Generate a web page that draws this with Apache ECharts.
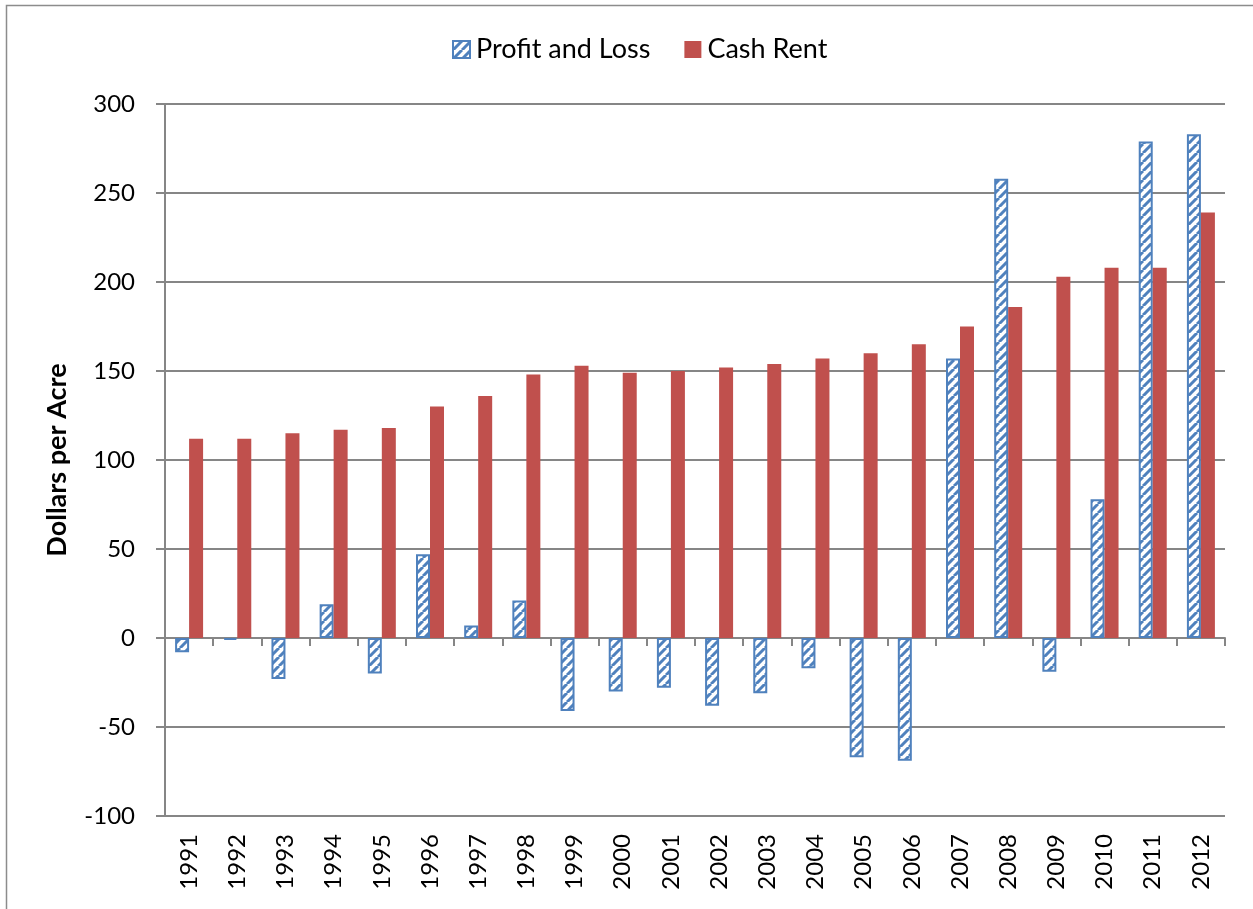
<!DOCTYPE html>
<html>
<head>
<meta charset="utf-8">
<script src="https://cdn.jsdelivr.net/npm/echarts@6/dist/echarts.min.js"></script>
<style>
html,body{margin:0;padding:0;background:#fff;}
#chart{width:1253px;height:909px;}
</style>
</head>
<body>
<div id="chart"></div>
<script>
const years = ['1991','1992','1993','1994','1995','1996','1997','1998','1999','2000','2001','2002','2003','2004','2005','2006','2007','2008','2009','2010','2011','2012'];
const profitLoss = [-8,-1,-23,19,-20,47,7,21,-41,-30,-28,-38,-31,-17,-67,-69,157,258,-19,78,279,283];
const cashRent = [112,112,115,117,118,130,136,148,153,149,150,152,154,157,160,165,175,186,203,208,208,239];
const yTicks = {min:-100, max:300, interval:50};

const BLUE = '#4F81BD', RED = '#C0504D';
const FONT = 'Lato, "Open Sans", sans-serif';

function hatch(){
  const s = 9;
  const c = document.createElement('canvas');
  c.width = s; c.height = s;
  const ctx = c.getContext('2d');
  ctx.fillStyle = '#fff';
  ctx.fillRect(0,0,s,s);
  ctx.strokeStyle = BLUE;
  ctx.lineWidth = 3;
  for (const o of [-s,0,s]) {
    ctx.beginPath();
    ctx.moveTo(o, s);
    ctx.lineTo(o + s, 0);
    ctx.stroke();
  }
  return c;
}

const chart = echarts.init(document.getElementById('chart'));
chart.setOption({
  backgroundColor:'#fff',
  animation:false,
  graphic:[{type:'rect', shape:{x:6.5,y:5.5,width:1400,height:1400}, style:{fill:null, stroke:'#8c8c8c', lineWidth:1.5}, silent:true}],
  legend:{
    top:31, left:447, itemWidth:17, itemHeight:17, itemGap:34, icon:'rect',
    textStyle:{fontFamily:FONT, fontSize:27, color:'#000', padding:[0,0,0,1]},
    data:['Profit and Loss','Cash Rent']
  },
  grid:{left:165, right:28, top:104, bottom:93, containLabel:false},
  xAxis:[{
    type:'category', data:years, position:'bottom',
    axisLine:{onZero:true, lineStyle:{color:'#868686', width:2}},
    axisTick:{show:true, length:8, alignWithLabel:false, lineStyle:{color:'#868686', width:2}},
    axisLabel:{show:false}, splitLine:{show:false}
  },{
    type:'category', data:years, position:'bottom', gridIndex:0,
    axisLine:{show:false, onZero:false}, axisTick:{show:false},
    axisLabel:{show:true, rotate:90, margin:18, fontFamily:FONT, fontSize:24, color:'#000'},
    splitLine:{show:false}
  }],
  yAxis:{
    type:'value', min:yTicks.min, max:yTicks.max, interval:yTicks.interval,
    name:'Dollars per Acre', nameLocation:'middle', nameGap:94, nameRotate:90,
    nameTextStyle:{fontFamily:FONT, fontSize:27, fontWeight:'bold', color:'#000'},
    axisLine:{show:true, onZero:false, lineStyle:{color:'#868686', width:2}},
    axisTick:{show:true, length:9, lineStyle:{color:'#868686', width:2}},
    axisLabel:{margin:30, fontFamily:FONT, fontSize:24, color:'#000'},
    splitLine:{show:true, lineStyle:{color:'#868686', width:2}}
  },
  series:[{
    name:'Profit and Loss', type:'bar', xAxisIndex:0, data:profitLoss,
    barWidth:14, barGap:'0%',
    itemStyle:{color:{image:hatch(), repeat:'repeat'}, borderColor:BLUE, borderWidth:2}
  },{
    name:'Cash Rent', type:'bar', xAxisIndex:0, data:cashRent,
    barWidth:14, barGap:'0%',
    itemStyle:{color:RED}
  }]
});
</script>
</body>
</html>
